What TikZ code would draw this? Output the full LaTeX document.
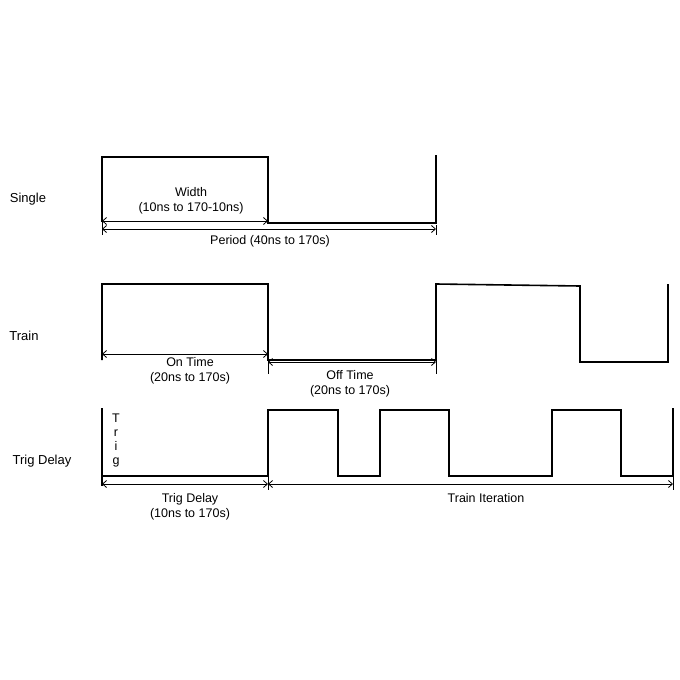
\documentclass[tikz,border=0pt]{standalone}
\usepackage{fontspec}
\setmainfont{Liberation Sans}
\usetikzlibrary{arrows.meta}
\begin{document}
\begin{tikzpicture}[x=1pt,y=-1pt,
  wave/.style={line width=1.6pt,line join=miter},
  dim/.style={line width=0.8pt,{Straight Barb[length=4pt,width=7pt]}-{Straight Barb[length=4pt,width=7pt]}},
  tick/.style={line width=0.8pt},
  lbl/.style={font=\fontsize{13}{15}\selectfont,inner sep=0pt},
  txt/.style={font=\fontsize{12.5}{15}\selectfont,inner sep=0pt,align=center}]
\useasboundingbox (0,0) rectangle (680,680);
% labels
\node[lbl] (ls) at (28,199) {Single};
\node[lbl] (lt) at (24,336) {Train};
\node[lbl] (ld) at (42,461) {Trig Delay};
% Single
\draw[wave] (102,222) -- (102,157) -- (268,157) -- (268,223) -- (436,223) -- (436,155);
\coordinate (s1) at (102,229); \coordinate (s2) at (436,229);
\coordinate (w1) at (102,221); \coordinate (w2) at (268,221);
\draw[dim] (s1) -- (s2);
\draw[dim] (w1) -- (w2);
\draw[tick] (102,215) -- (102,235) (436,225) -- (436,235);
\node[txt] (tw) at (191,201) {Width\\(10ns to 170-10ns)};
\node[txt] (tp) at (270,241) {Period (40ns to 170s)};
% Train
\draw[wave] (102,360) -- (102,284) -- (268,284) -- (268,360) -- (436,360) -- (436,284) -- (580,286) -- (580,362) -- (668,362) -- (668,284);
\coordinate (o1) at (102,354); \coordinate (o2) at (268,354);
\coordinate (f1) at (268,362); \coordinate (f2) at (436,362);
\draw[dim] (o1) -- (o2);
\draw[dim] (f1) -- (f2);
\draw[tick] (268,354) -- (268,374) (436,360) -- (436,374);
\node[txt] (to) at (190,371) {On Time\\(20ns to 170s)};
\node[txt] (tf) at (350,384) {Off Time\\(20ns to 170s)};
% Trig delay
\draw[wave] (102,408) -- (102,486);
\draw[wave] (102,476) -- (268,476) -- (268,410) -- (338,410) -- (338,476) -- (380,476) -- (380,410) -- (449,410) -- (449,476) -- (552,476) -- (552,410) -- (621,410) -- (621,476) -- (673,476) -- (673,408);
\node[txt] (tg) at (116,440) {T\\[-1pt]r\\[-1pt]i\\[-1pt]g};
\coordinate (d1) at (102,484); \coordinate (d2) at (268,484); \coordinate (d3) at (673,484);
\draw[dim] (d1) -- (d2);
\draw[dim] (d2) -- (d3);
\draw[tick] (268,476) -- (268,490) (673,476) -- (673,490);
\node[txt] (td) at (190,507) {Trig Delay\\(10ns to 170s)};
\node[txt] (ti) at (486,498) {Train Iteration};
\end{tikzpicture}
\end{document}
